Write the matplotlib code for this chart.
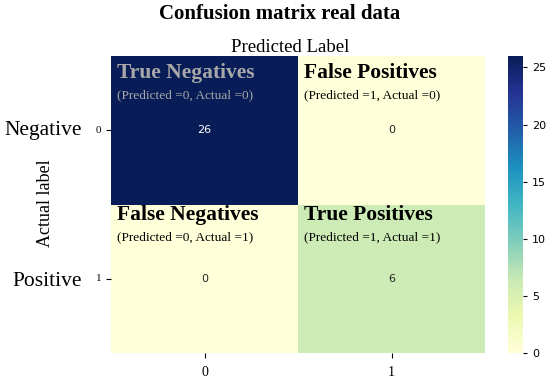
import matplotlib
matplotlib.use("Agg")
import matplotlib.pyplot as plt
import seaborn as sns
import numpy as np

values = [[26, 0], [0, 6]]
cell_titles = [["True Negatives", "False Positives"], ["False Negatives", "True Positives"]]
cell_subtitles = [["(Predicted =0, Actual =0)", "(Predicted =1, Actual =0)"],
                  ["(Predicted =0, Actual =1)", "(Predicted =1, Actual =1)"]]
tick_labels = ["0", "1"]
row_names = ["Negative", "Positive"]

serif = ["Liberation Serif", "DejaVu Serif"]

W, H = 550, 381
fig = plt.figure(figsize=(5.5, 3.81), dpi=100)
ax = fig.add_axes([111/W, 1 - 353/H, 374/W, 297/H])
cax = fig.add_axes([508/W, 1 - 353/H, 15/W, 297/H])

sns.heatmap(np.array(values), annot=True, fmt="d", cmap="YlGnBu", ax=ax, cbar_ax=cax,
            annot_kws={"fontsize": 8})
cax.tick_params(labelsize=8, length=3)
for s in cax.spines.values():
    s.set_visible(False)

ax.set_xticklabels(tick_labels, fontfamily=serif, fontsize=10)
ax.set_yticklabels(tick_labels, fontfamily=serif, fontsize=8, rotation=0)
ax.tick_params(axis="x", pad=6)

title_off = [0.115, 0.07]
sub_off = [0.265, 0.22]
for i in range(2):
    for j in range(2):
        col = "#a8a8a8" if values[i][j] > 15 else "black"
        ax.text(j + 0.03, i + title_off[i], cell_titles[i][j], fontfamily=serif, fontweight="bold",
                fontsize=15.5, color=col, va="center", ha="left")
        ax.text(j + 0.03, i + sub_off[i], cell_subtitles[i][j], fontfamily=serif,
                fontsize=9.6, color=col, va="center", ha="left")

fig.text(280/W, 1 - 14/H, "Confusion matrix real data", fontfamily=serif, fontweight="bold",
         fontsize=15, ha="center", va="center")
fig.text(290/W, 1 - 47/H, "Predicted Label", fontfamily=serif, fontsize=13.5,
         ha="center", va="center")
fig.text(45/W, 1 - 203/H, "Actual label", fontfamily=serif, fontsize=13,
         ha="center", va="center", rotation=90)
fig.text(43/W, 1 - 131/H, row_names[0], fontfamily=serif, fontsize=15.5,
         ha="center", va="center")
fig.text(47/W, 1 - 281/H, row_names[1], fontfamily=serif, fontsize=15.5,
         ha="center", va="center")

fig.savefig("out.png", dpi=100)
